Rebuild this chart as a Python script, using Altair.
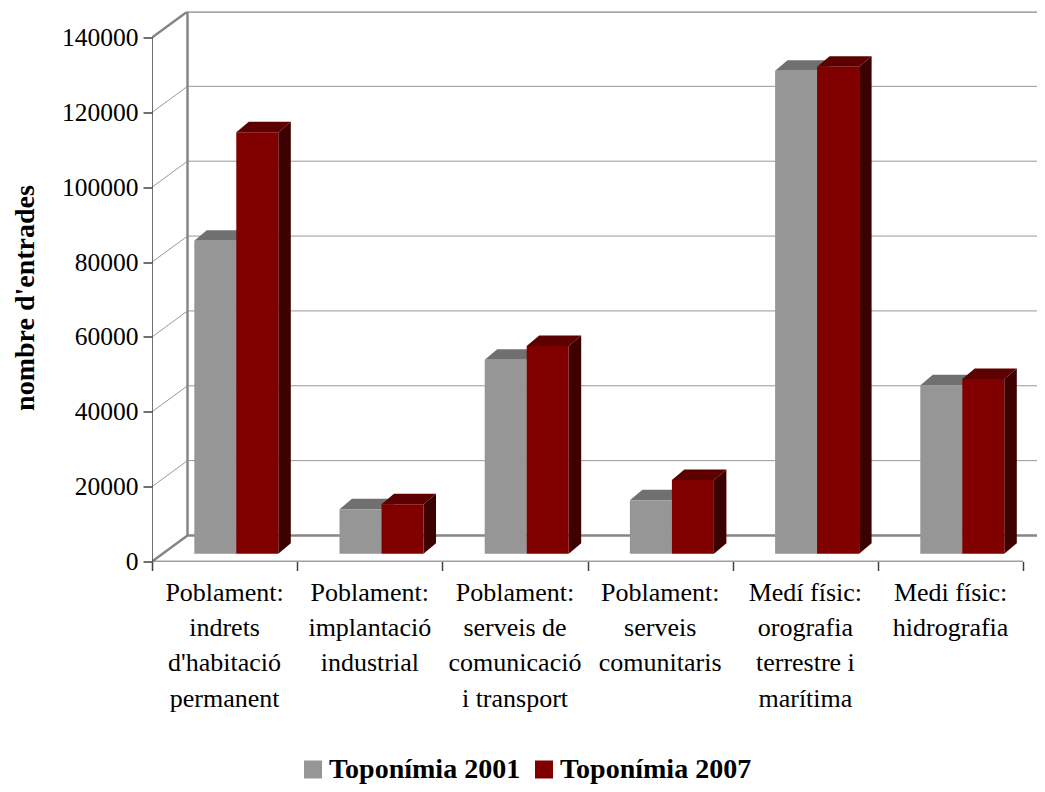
import altair as alt
import pandas as pd

# ---- values
categories = [
    "Poblament:\nindrets\nd'habitació\npermanent",
    "Poblament:\nimplantació\nindustrial",
    "Poblament:\nserveis de\ncomunicació\ni transport",
    "Poblament:\nserveis\ncomunitaris",
    "Medí físic:\norografia\nterrestre i\nmarítima",
    "Medi físic:\nhidrografia",
]
series_names = ["Toponímia 2001", "Toponímia 2007"]
values_2001 = [83600, 11900, 51800, 14300, 129000, 45000]
values_2007 = [112600, 13200, 55500, 19700, 130100, 46700]
y_ticks = [0, 20000, 40000, 60000, 80000, 100000, 120000, 140000]

GRAY, GRAY_TOP = "#969696", "#707070"
RED, RED_TOP, RED_SIDE = "#800000", "#5c0000", "#3d0000"
WALL, GRID, AXIS = "#868686", "#999999", "#404040"
FONT = "Liberation Serif"

W, H = 885, 550
PX_X = 1 / 145.2          # categories per pixel
PX_Y = 140000 / 524       # value units per pixel
x_max = W * PX_X
y_max = H * PX_Y
wall_dx, wall_dy = 35.5 * PX_X, 26 * PX_Y
depth_dx, depth_dy = 12.5 * PX_X, 10.5 * PX_Y
base_dy = 7.8 * PX_Y
bar_w = 42 * PX_X
bar_start = 42.3 * PX_X

xs = alt.Scale(domain=[0, x_max], nice=False, zero=False)
ys = alt.Scale(domain=[0, y_max], nice=False, zero=False)
x_axis = alt.Axis(
    values=list(range(7)), labels=False, domain=False, grid=False,
    ticks=True, tickSize=9, tickColor=AXIS, tickWidth=1.5, title=None)
y_axis = alt.Axis(
    values=y_ticks, format="d", domain=False, grid=False, tickSize=9,
    tickColor=AXIS, tickWidth=1.5, labelFont=FONT, labelFontSize=25.5,
    labelColor="#000000", labelPadding=5,
    title="nombre d'entrades", titleFont=FONT, titleFontSize=28, titleFontWeight="bold",
    titleColor="#000000", titleAngle=270, titleX=-119, titleY=286, titleAlign="center",
    titleBaseline="alphabetic")
X = lambda f="x": alt.X(f"{f}:Q", scale=xs, axis=x_axis)
Y = lambda f="y": alt.Y(f"{f}:Q", scale=ys, axis=y_axis)

# ---- box frame
frame_thick = []
for k, t in enumerate([0, 140000]):
    frame_thick += [
        {"id": k, "ord": 0, "x": 0, "y": t},
        {"id": k, "ord": 1, "x": wall_dx, "y": t + wall_dy},
        {"id": k, "ord": 2, "x": x_max, "y": t + wall_dy},
    ]
frame_thick += [
    {"id": 9, "ord": 0, "x": wall_dx, "y": wall_dy},
    {"id": 9, "ord": 1, "x": wall_dx, "y": 140000 + wall_dy},
]
grid = []
for t in y_ticks[1:-1]:
    grid += [
        {"id": t, "ord": 0, "x": 0, "y": t},
        {"id": t, "ord": 1, "x": wall_dx, "y": t + wall_dy},
        {"id": t, "ord": 2, "x": x_max, "y": t + wall_dy},
    ]
axis_lines = [
    {"id": 0, "ord": 0, "x": 0, "y": 0},
    {"id": 0, "ord": 1, "x": 0, "y": 140000},
    {"id": 1, "ord": 0, "x": 0, "y": 0},
    {"id": 1, "ord": 1, "x": 6, "y": 0},
]

def line_layer(rows, color, width):
    return alt.Chart(pd.DataFrame(rows)).mark_line(
        color=color, strokeWidth=width, interpolate="linear", clip=True
    ).encode(x=X(), y=Y(), detail="id:N", order="ord:Q")

# ---- bars
front_rows, top_rows, side_rows = [], [], []
for i in range(len(categories)):
    for s, vals in enumerate([values_2001, values_2007]):
        x0 = i + bar_start + s * bar_w
        x1 = x0 + bar_w
        y0 = base_dy
        y1 = vals[i] + base_dy
        cid = f"{i}-{s}"
        front_rows.append({"x": x0, "x2": x1, "y": y0, "y2": y1, "serie": series_names[s], "cat": i})
        top_rows += [
            {"id": cid, "s": s, "x": x0, "lo": y1, "hi": y1},
            {"id": cid, "s": s, "x": x0 + depth_dx, "lo": y1, "hi": y1 + depth_dy},
            {"id": cid, "s": s, "x": x1, "lo": y1, "hi": y1 + depth_dy},
            {"id": cid, "s": s, "x": x1 + depth_dx, "lo": y1 + depth_dy, "hi": y1 + depth_dy},
        ]
        side_rows += [
            {"id": cid, "s": s, "x": x1, "lo": y0, "hi": y1},
            {"id": cid, "s": s, "x": x1 + depth_dx, "lo": y0 + depth_dy, "hi": y1 + depth_dy},
        ]
front = pd.DataFrame(front_rows)
top = pd.DataFrame(top_rows)
side = pd.DataFrame(side_rows)

def area_layer(df, color):
    return alt.Chart(df).mark_area(color=color, interpolate="linear", orient="vertical", clip=True).encode(
        x=X(), y=Y("lo"), y2=alt.Y2("hi:Q"), detail="id:N"
    )

gray_top = area_layer(top[top.s == 0], GRAY_TOP)
gray_side = area_layer(side[side.s == 0], GRAY_TOP)
red_top = area_layer(top[top.s == 1], RED_TOP)
red_side = area_layer(side[side.s == 1], RED_SIDE)

front_bars = alt.Chart(front).mark_rect().encode(
    x=X(),
    x2="x2:Q",
    y=Y(),
    y2="y2:Q",
    color=alt.Color("serie:N", scale=alt.Scale(domain=series_names, range=[GRAY, RED]),
        legend=alt.Legend(
            orient="none", legendX=147, legendY=744, direction="horizontal", title=None,
            symbolType="square", symbolSize=324, symbolStrokeWidth=0, labelFont=FONT,
            labelFontSize=28, labelFontWeight="bold", labelColor="#000000",
            labelOffset=2, columnPadding=9, symbolOffset=0, padding=0, labelLimit=400)),
    order=alt.Order("cat:Q"),
)

labels = alt.Chart(pd.DataFrame({
    "x": [i + 0.5 for i in range(len(categories))],
    "t": categories,
})).mark_text(
    font=FONT, fontSize=26, color="#000000", align="center", baseline="alphabetic",
    lineBreak="\n", lineHeight=35.4, dy=39,
).encode(x=X(), y=alt.Y(datum=0, scale=ys, axis=y_axis), text="t:N")

chart = alt.layer(
    line_layer(grid, GRID, 1),
    line_layer(frame_thick, WALL, 2.5),
    gray_side, gray_top, red_top, red_side,
    front_bars,
    line_layer(axis_lines, AXIS, 1.5),
    labels,
).properties(
    width=W, height=H,
    padding={"left": 144, "top": 3.5, "right": 0, "bottom": 222.5},
    autosize=alt.AutoSizeParams(type="none"),
    background="white",
).configure_view(stroke=None)

chart.save("out.html", embed_options={"renderer": "svg", "actions": False})
